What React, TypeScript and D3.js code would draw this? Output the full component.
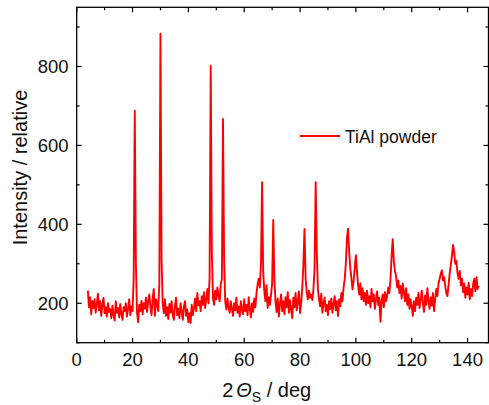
import React from 'react';
import * as d3 from 'd3';

// diffraction pattern, sampled every 0.4 deg starting at 4.0 deg
const startAngle = 4.0;
const stepAngle = 0.4;

// 4.0 .. 23.6
const int04 = [232, 190, 215, 172, 205, 188, 210, 176, 198, 224,
  182, 205, 168, 196, 214, 175, 190, 166, 200, 178,
  185, 162, 194, 170, 156, 205, 176, 188, 164, 198,
  172, 158, 190, 180, 200, 166, 186, 210, 170, 192,
  180, 262, 688, 300, 178, 152, 196, 180, 206, 172];
// 24.0 .. 43.6
const int24 = [200, 186, 214, 178, 205, 222, 190, 170, 212, 236,
  168, 210, 198, 180, 250, 883, 310, 200, 175, 210,
  168, 190, 160, 198, 176, 205, 172, 158, 194, 214,
  170, 186, 162, 200, 178, 158, 192, 205, 168, 184,
  152, 175, 150, 196, 170, 188, 212, 180, 226, 195];
// 44.0 .. 63.6
const int44 = [205, 180, 218, 196, 228, 188, 210, 236, 200, 265,
  802, 330, 215, 196, 232, 210, 240, 218, 205, 248,
  262, 667, 310, 205, 184, 212, 190, 176, 205, 185,
  168, 200, 182, 214, 176, 192, 166, 205, 184, 172,
  210, 180, 196, 170, 215, 186, 164, 200, 178, 212];
// 64.0 .. 83.6
const int64 = [190, 225, 248, 262, 240, 300, 507, 280, 230, 205,
  246, 188, 215, 196, 222, 250, 411, 260, 205, 178,
  212, 166, 198, 222, 180, 205, 172, 215, 190, 228,
  176, 208, 184, 162, 214, 190, 226, 182, 205, 230,
  175, 200, 240, 300, 388, 262, 228, 210, 232, 214];
// 84.0 .. 103.6
const int84 = [222, 208, 236, 290, 507, 330, 236, 210, 192, 224,
  176, 200, 214, 180, 196, 170, 205, 185, 212, 176,
  198, 218, 182, 205, 168, 210, 192, 226, 205, 240,
  262, 300, 365, 389, 330, 290, 262, 235, 258, 290,
  322, 280, 245, 222, 250, 210, 238, 205, 226, 196];
// 104.0 .. 123.6
const int104 = [232, 200, 218, 190, 236, 205, 222, 186, 210, 230,
  196, 214, 153, 205, 222, 190, 228, 205, 218, 240,
  226, 262, 320, 362, 305, 282, 268, 240, 258, 226,
  244, 212, 250, 228, 205, 238, 196, 222, 186, 210,
  192, 168, 205, 180, 214, 196, 226, 188, 210, 232];
// 124.0 .. 144.0
const int124 = [200, 178, 220, 196, 238, 205, 186, 215, 194, 226,
  180, 210, 236, 218, 250, 262, 275, 283, 258, 266,
  244, 225, 218, 248, 275, 298, 320, 348, 330, 300,
  308, 276, 262, 282, 246, 262, 228, 250, 214, 240,
  222, 252, 210, 236, 218, 248, 262, 230, 266, 236, 244];

const intensity = [...int04, ...int24, ...int44, ...int64, ...int84, ...int104, ...int124];
const points = intensity.map((v, i) => [startAngle + i * stepAngle, v]);

const xMajor = [0, 20, 40, 60, 80, 100, 120, 140];
const xMinor = [10, 30, 50, 70, 90, 110, 130];
const yMajor = [200, 400, 600, 800];
const yMinor = [100, 300, 500, 700, 900];

const font = 'Liberation Sans, Arial, Helvetica, sans-serif';

export default function App() {
  const left = 76.7, right = 488.5, top = 7.3, bottom = 342.7;

  const x = d3.scaleLinear().domain([0, 147.5]).range([left, right]);
  const y = d3.scaleLinear().domain([100, 950]).range([bottom, top]);

  const line = d3.line<number[]>()
    .x(d => x(d[0]))
    .y(d => y(d[1]));

  return (
    <svg width={489} height={405} style={{ position: 'absolute', left: 0, top: 0, background: '#fff' }}>
      <path d={line(points) || ''} fill="none" stroke="#ff0000" strokeWidth={1.9} strokeLinejoin="round" />

      {/* frame */}
      <rect x={left} y={top} width={right - left} height={bottom - top} fill="none" stroke="#000" strokeWidth={1.3} />

      {/* x ticks, bottom and top, pointing in */}
      {xMajor.map(t => (
        <g key={'xM' + t}>
          <line x1={x(t)} x2={x(t)} y1={bottom} y2={bottom - 5} stroke="#000" strokeWidth={1.2} />
          <line x1={x(t)} x2={x(t)} y1={top} y2={top + 5} stroke="#000" strokeWidth={1.2} />
          <text x={x(t)} y={365.5} textAnchor="middle" fontFamily={font} fontSize={18.5} fill="#111">{t}</text>
        </g>
      ))}
      {xMinor.map(t => (
        <g key={'xm' + t}>
          <line x1={x(t)} x2={x(t)} y1={bottom} y2={bottom - 3} stroke="#000" strokeWidth={1.2} />
          <line x1={x(t)} x2={x(t)} y1={top} y2={top + 3} stroke="#000" strokeWidth={1.2} />
        </g>
      ))}

      {/* y ticks */}
      {yMajor.map(t => (
        <g key={'yM' + t}>
          <line x1={left} x2={left + 5} y1={y(t)} y2={y(t)} stroke="#000" strokeWidth={1.2} />
          <line x1={right} x2={right - 5} y1={y(t)} y2={y(t)} stroke="#000" strokeWidth={1.2} />
          <text x={68.5} y={y(t) + 6.5} textAnchor="end" fontFamily={font} fontSize={18.5} fill="#111">{t}</text>
        </g>
      ))}
      {yMinor.map(t => (
        <g key={'ym' + t}>
          <line x1={left} x2={left + 3} y1={y(t)} y2={y(t)} stroke="#000" strokeWidth={1.2} />
          <line x1={right} x2={right - 3} y1={y(t)} y2={y(t)} stroke="#000" strokeWidth={1.2} />
        </g>
      ))}

      {/* axis titles */}
      <text x={266.7} y={396.5} textAnchor="middle" fontFamily={font} fontSize={20} fill="#111">
        2<tspan dx={3} fontStyle="italic">Θ</tspan><tspan fontSize={14} dy={5}>S</tspan><tspan dy={-5}> / deg</tspan>
      </text>
      <text transform="translate(27,167.5) rotate(-90)" textAnchor="middle" fontFamily={font} fontSize={20} fill="#111">
        Intensity / relative
      </text>

      {/* legend */}
      <line x1={300} x2={340} y1={136} y2={136} stroke="#ff0000" strokeWidth={1.9} />
      <text x={345} y={142.5} fontFamily={font} fontSize={17.5} fill="#111">TiAl powder</text>
    </svg>
  );
}
